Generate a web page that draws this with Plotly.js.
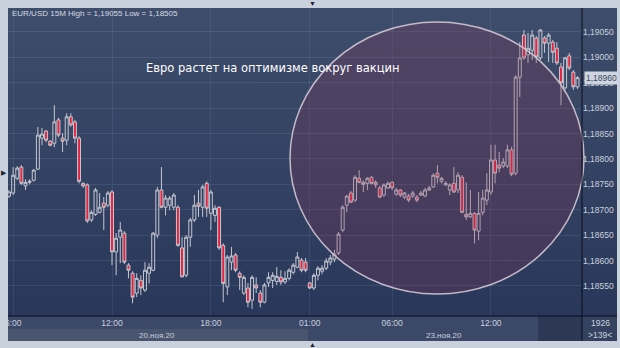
<!DOCTYPE html>
<html>
<head>
<meta charset="utf-8">
<script src="https://cdn.plot.ly/plotly-3.0.1.min.js"></script>
<style>
html,body{margin:0;padding:0;background:#c9d1dc;}
#chart{width:620px;height:348px;}
</style>
</head>
<body>
<div id="chart"></div>
<script>
// ---- Data: EUR/USD 15M bars (Fri 20.11 05:45 ... Mon 23.11 17:15) ----
const open = [
1.18727,1.18733,1.18762,1.18784,1.18747,1.18754,1.18758,1.18780,1.18841,1.18855,
1.18835,1.18831,1.18877,1.18841,1.18837,1.18883,1.18873,1.18841,1.18752,1.18749,
1.18680,1.18691,1.18695,1.18713,1.18709,1.18735,1.18617,1.18646,1.18654,1.18591,
1.18575,1.18536,1.18561,1.18542,1.18575,1.18581,1.18650,1.18739,1.18705,1.18709,
1.18705,1.18705,1.18625,1.18571,1.18646,1.18680,1.18713,1.18705,1.18752,1.18693,
1.18689,1.18705,1.18630,1.18548,1.18597,1.18611,1.18575,1.18536,1.18546,1.18522,
1.18552,1.18536,1.18518,1.18556,1.18561,1.18559,1.18567,1.18558,1.18565,1.18577,
1.18587,1.18601,1.18597,1.18556,1.18546,1.18571,1.18579,1.18585,1.18597,1.18603,
1.18615,1.18660,1.18709,1.18733,1.18719,1.18762,1.18750,1.18752,1.18764,1.18754,
1.18743,1.18729,1.18743,1.18754,1.18731,1.18739,1.18725,1.18727,1.18727,1.18725,
1.18729,1.18727,1.18739,1.18745,1.18772,1.18756,1.18749,1.18739,1.18752,1.18739,
1.18764,1.18691,1.18686,1.18693,1.18658,1.18695,1.18719,1.18735,1.18798,1.18788,
1.18786,1.18786,1.18818,1.18772,1.18961,1.19044,1.19005,1.19014,1.19038,1.18999,
1.19038,1.19028,1.19030,1.19018,1.18981,1.18940,1.19003,1.18971,1.18942
];
const high = [
1.18739,1.18784,1.18786,1.18788,1.18760,1.18760,1.18780,1.18863,1.18861,1.18857,
1.18837,1.18906,1.18881,1.18851,1.18890,1.18890,1.18877,1.18845,1.18754,1.18752,
1.18699,1.18743,1.18733,1.18725,1.18737,1.18739,1.18654,1.18676,1.18658,1.18595,
1.18579,1.18575,1.18571,1.18597,1.18595,1.18656,1.18745,1.18784,1.18729,1.18727,
1.18733,1.18709,1.18646,1.18650,1.18684,1.18729,1.18739,1.18749,1.18756,1.18739,
1.18709,1.18707,1.18634,1.18611,1.18627,1.18615,1.18579,1.18571,1.18556,1.18571,
1.18567,1.18542,1.18556,1.18577,1.18577,1.18587,1.18581,1.18579,1.18585,1.18595,
1.18617,1.18605,1.18605,1.18558,1.18575,1.18589,1.18591,1.18605,1.18611,1.18621,
1.18656,1.18709,1.18729,1.18737,1.18768,1.18778,1.18758,1.18764,1.18766,1.18758,
1.18747,1.18752,1.18756,1.18756,1.18743,1.18741,1.18735,1.18731,1.18737,1.18729,
1.18737,1.18743,1.18747,1.18772,1.18788,1.18764,1.18756,1.18752,1.18784,1.18774,
1.18768,1.18754,1.18739,1.18695,1.18735,1.18739,1.18772,1.18828,1.18828,1.18814,
1.18802,1.18828,1.18824,1.18965,1.19030,1.19054,1.19048,1.19054,1.19042,1.19055,
1.19042,1.19048,1.19034,1.19030,1.18989,1.19001,1.19009,1.18975,1.18963
];
const low = [
1.18723,1.18729,1.18758,1.18749,1.18739,1.18750,1.18756,1.18778,1.18827,1.18833,
1.18825,1.18823,1.18843,1.18814,1.18827,1.18863,1.18831,1.18752,1.18743,1.18674,
1.18676,1.18688,1.18693,1.18660,1.18705,1.18591,1.18571,1.18595,1.18593,1.18565,
1.18516,1.18528,1.18532,1.18538,1.18555,1.18579,1.18644,1.18703,1.18689,1.18699,
1.18699,1.18627,1.18567,1.18567,1.18627,1.18676,1.18686,1.18686,1.18686,1.18660,
1.18676,1.18621,1.18518,1.18532,1.18581,1.18577,1.18542,1.18532,1.18508,1.18505,
1.18536,1.18508,1.18516,1.18548,1.18546,1.18552,1.18552,1.18554,1.18561,1.18573,
1.18585,1.18577,1.18577,1.18544,1.18542,1.18561,1.18573,1.18581,1.18591,1.18597,
1.18611,1.18656,1.18695,1.18713,1.18715,1.18752,1.18735,1.18739,1.18750,1.18743,
1.18723,1.18725,1.18741,1.18739,1.18727,1.18725,1.18721,1.18715,1.18723,1.18715,
1.18727,1.18725,1.18737,1.18743,1.18752,1.18752,1.18747,1.18729,1.18733,1.18733,
1.18693,1.18680,1.18684,1.18634,1.18640,1.18689,1.18709,1.18729,1.18752,1.18774,
1.18782,1.18782,1.18766,1.18768,1.18922,1.18995,1.18989,1.18995,1.18989,1.18995,
1.19009,1.18991,1.18989,1.18985,1.18906,1.18936,1.18975,1.18936,1.18938
];
const close = [
1.18735,1.18768,1.18782,1.18752,1.18754,1.18756,1.18778,1.18847,1.18849,1.18837,
1.18827,1.18873,1.18847,1.18835,1.18883,1.18867,1.18841,1.18756,1.18747,1.18678,
1.18695,1.18739,1.18705,1.18705,1.18733,1.18617,1.18644,1.18660,1.18597,1.18581,
1.18528,1.18565,1.18546,1.18581,1.18587,1.18654,1.18739,1.18705,1.18723,1.18723,
1.18729,1.18630,1.18568,1.18646,1.18680,1.18709,1.18707,1.18745,1.18703,1.18735,
1.18703,1.18625,1.18555,1.18607,1.18609,1.18581,1.18567,1.18567,1.18518,1.18567,
1.18546,1.18518,1.18552,1.18567,1.18571,1.18569,1.18558,1.18565,1.18581,1.18591,
1.18607,1.18581,1.18581,1.18546,1.18571,1.18585,1.18585,1.18599,1.18605,1.18613,
1.18652,1.18705,1.18727,1.18715,1.18764,1.18754,1.18754,1.18762,1.18752,1.18749,
1.18725,1.18749,1.18752,1.18743,1.18739,1.18729,1.18733,1.18719,1.18733,1.18719,
1.18733,1.18739,1.18743,1.18768,1.18764,1.18762,1.18752,1.18749,1.18735,1.18768,
1.18695,1.18686,1.18693,1.18660,1.18693,1.18723,1.18739,1.18798,1.18772,1.18782,
1.18794,1.18818,1.18770,1.18961,1.18999,1.18999,1.19018,1.19044,1.19001,1.19054,
1.19028,1.19044,1.19010,1.18989,1.18950,1.18999,1.18979,1.18942,1.18960
];

// time-axis labels (bar index of each labelled bar)
const timeTickIdx  = [1, 25, 49, 73, 93, 117];
const timeTickText = ['6:00', '12:00', '18:00', '01:00', '06:00', '12:00'];
// trading days: label and first bar index
const dayLabels = ['20.ноя.20', '23.ноя.20'];
const dayFirstIdx = [0, 73];
// price axis ticks
const priceTicks = [1.18550, 1.18600, 1.18650, 1.18700, 1.18750, 1.18800, 1.18850, 1.18900, 1.18950, 1.19000, 1.19050];

const headline = 'Евро растет на оптимизме вокруг вакцин';
const symbolText = 'EUR/USD 15M';
const counterText = '1926';

// ---- derived ----
const N = close.length;
const xIdx = close.map((_, i) => i);
const fmt = v => v.toFixed(5).replace('.', ',');
const hi = Math.max(...high), lo = Math.min(...low);
const last = close[N - 1];

// pixel helpers for the paper frame (plot area 8..582 x, 8..316 y)
const PL = 8, PR = 582, PT = 8, PB = 316;
const px = x => (x - PL) / (PR - PL);
const py = y => (PB - y) / (PB - PT);

const gradSvg = '<svg xmlns="http://www.w3.org/2000/svg" width="10" height="100" preserveAspectRatio="none">' +
  '<defs><linearGradient id="g" x1="0" y1="0" x2="0" y2="1">' +
  '<stop offset="0" stop-color="#3f4d6c"/><stop offset="1" stop-color="#29375a"/></linearGradient></defs>' +
  '<rect width="10" height="100" fill="url(#g)"/></svg>';
const gradUri = 'data:image/svg+xml;base64,' + btoa(gradSvg);

const trace = {
  type: 'candlestick',
  x: xIdx, open: open, high: high, low: low, close: close,
  increasing: { line: { color: '#c3c7d0', width: 1 }, fillcolor: 'rgba(0,0,0,0)' },
  decreasing: { line: { color: '#c3c7d0', width: 1 }, fillcolor: '#e8233f' },
  whiskerwidth: 0,
  hoverinfo: 'skip',
  showlegend: false
};

const axisFont = { family: 'Liberation Sans, Arial, sans-serif', size: 8.5, color: '#c9d1de' };

const annotations = [
  { xref: 'paper', yref: 'paper', x: px(10), y: py(14), xanchor: 'left', yanchor: 'middle',
    text: symbolText + ' High = ' + fmt(hi) + ' Low = ' + fmt(lo), showarrow: false,
    font: { family: 'Liberation Sans, Arial, sans-serif', size: 8, color: '#d6dbe4' } },
  { xref: 'paper', yref: 'paper', x: px(273), y: py(68), xanchor: 'center', yanchor: 'middle',
    text: headline, showarrow: false,
    font: { family: 'DejaVu Sans, sans-serif', size: 11.5, color: '#ffffff' } },
  { xref: 'paper', yref: 'y', x: px(584), y: last, xanchor: 'left', yanchor: 'middle',
    text: fmt(last), showarrow: false, bgcolor: '#cfd5de', borderpad: 1,
    font: { family: 'Liberation Sans, Arial, sans-serif', size: 8.5, color: '#3a4866' } },
  { xref: 'paper', yref: 'paper', x: px(600), y: py(323), xanchor: 'center', yanchor: 'middle',
    text: counterText, showarrow: false, font: axisFont },
  { xref: 'paper', yref: 'paper', x: px(600), y: py(335), xanchor: 'center', yanchor: 'middle',
    text: '&gt;' + N + '&lt;', showarrow: false, font: axisFont },
  { xref: 'paper', yref: 'paper', x: px(312), y: py(3), xanchor: 'center', yanchor: 'middle',
    text: '▼', showarrow: false, font: { size: 7, color: '#1c2436' } },
  { xref: 'paper', yref: 'paper', x: px(312), y: py(344), xanchor: 'center', yanchor: 'middle',
    text: '▲', showarrow: false, font: { size: 7, color: '#1c2436' } },
  { xref: 'paper', yref: 'paper', x: px(4), y: py(172), xanchor: 'center', yanchor: 'middle',
    text: '▶', showarrow: false, font: { size: 7, color: '#1c2436' } }
];
dayLabels.forEach((lab, k) => {
  const a = dayFirstIdx[k];
  const b = k + 1 < dayFirstIdx.length ? dayFirstIdx[k + 1] - 1 : N - 1;
  annotations.push({ xref: 'x', yref: 'paper', x: (a + b) / 2, y: py(335),
    xanchor: 'center', yanchor: 'middle', text: lab, showarrow: false,
    font: { family: 'Liberation Sans, Arial, sans-serif', size: 8, color: '#c9d1de' } });
});

const shapes = [
  // axis strip
  { type: 'rect', xref: 'paper', yref: 'paper', x0: 0, x1: 1, y0: py(341), y1: 0,
    fillcolor: '#3b4868', line: { width: 0 }, layer: 'below' },
  { type: 'rect', xref: 'paper', yref: 'paper', x0: 0, x1: px(308), y0: py(341), y1: py(329),
    fillcolor: '#49556f', line: { width: 0 }, layer: 'below' },
  { type: 'rect', xref: 'paper', yref: 'paper', x0: px(538), x1: 1, y0: py(341), y1: 0,
    fillcolor: '#2c3856', line: { width: 0 }, layer: 'below' },
  { type: 'rect', xref: 'paper', yref: 'paper', x0: 1, x1: px(617), y0: py(341), y1: 0,
    fillcolor: '#34425f', line: { width: 0 }, layer: 'below' },
  // highlight circle
  { type: 'circle', xref: 'paper', yref: 'paper', x0: px(290), x1: px(584), y0: py(294), y1: py(22),
    fillcolor: 'rgba(140,50,85,0.25)', line: { color: 'rgba(210,200,212,0.9)', width: 1.5 }, layer: 'above' },
  // frame lines
  { type: 'line', xref: 'paper', yref: 'paper', x0: 1, x1: 1, y0: py(341), y1: 1,
    line: { color: '#0b0f1a', width: 1 }, layer: 'above' },
  { type: 'line', xref: 'paper', yref: 'paper', x0: 0, x1: px(617), y0: 0, y1: 0,
    line: { color: '#0b0f1a', width: 1.2 }, layer: 'above' }
];

const layout = {
  width: 620, height: 348,
  margin: { l: PL, r: 620 - PR, t: PT, b: 348 - PB, pad: 0 },
  paper_bgcolor: '#c9d1dc',
  plot_bgcolor: 'rgba(0,0,0,0)',
  boxgap: 0.25, boxgroupgap: 0.05,
  images: [{ source: gradUri, xref: 'paper', yref: 'paper', x: 0, y: 1, sizex: px(617), sizey: 1,
    xanchor: 'left', yanchor: 'top', sizing: 'stretch', layer: 'below' }],
  xaxis: {
    type: 'linear', range: [-0.25, 139.1], rangeslider: { visible: false },
    tickmode: 'array', tickvals: timeTickIdx, ticktext: timeTickText,
    showgrid: true, gridcolor: 'rgba(150,170,205,0.13)', gridwidth: 1,
    zeroline: false, showline: false, ticks: '', tickfont: axisFont, fixedrange: true
  },
  yaxis: {
    side: 'right', range: [1.184909, 1.190972],
    tickmode: 'array', tickvals: priceTicks, ticktext: priceTicks.map(fmt),
    showgrid: true, gridcolor: 'rgba(150,170,205,0.16)', gridwidth: 1,
    zeroline: false, showline: false, ticks: '', tickfont: axisFont, fixedrange: true
  },
  shapes: shapes,
  annotations: annotations,
  showlegend: false
};

Plotly.newPlot('chart', [trace], layout, { staticPlot: true, displayModeBar: false });
</script>
</body>
</html>
